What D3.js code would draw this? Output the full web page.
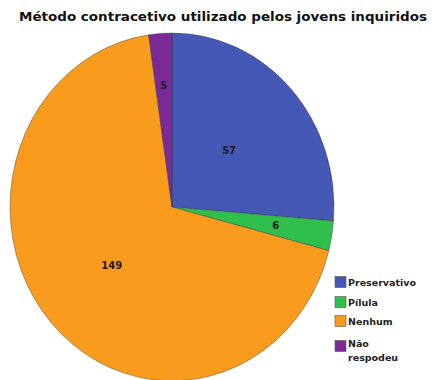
<!DOCTYPE html>
<html>
<head>
<meta charset="utf-8">
<script src="https://cdn.jsdelivr.net/npm/d3@7"></script>
<style>
  html, body { margin: 0; padding: 0; background: #fff; }
  svg { display: block; font-family: "DejaVu Sans", Verdana, sans-serif; }
</style>
</head>
<body>
<svg id="chart" width="435" height="380"></svg>
<script>
// Contraceptive method used by the surveyed young people
const categories = ["Preservativo", "Pílula", "Nenhum", "Não respodeu"];
const counts = [57, 6, 149, 5];
const legendLabels = [["Preservativo"], ["Pílula"], ["Nenhum"], ["Não", "respodeu"]];
const title = "Método contracetivo utilizado pelos jovens inquiridos";

const colors = ["#4558b6", "#2fbf4c", "#f99b1d", "#7a2b98"];
const labelRadius = [0.48, 0.65, 0.5, 0.7]; // fraction of radius for value labels

const svg = d3.select("#chart");

const titleText = svg.append("text")
  .attr("x", 223).attr("y", 21)
  .attr("text-anchor", "middle")
  .attr("font-size", 12)
  .attr("font-weight", "bold")
  .attr("fill", "#111")
  .text(title);
// keep the title at its set width
titleText.attr("textLength", 408).attr("lengthAdjust", "spacingAndGlyphs");

const cx = 172, cy = 207, rx = 162, ry = 174;
const data = categories.map((c, i) => ({ name: c, value: counts[i], i }));

const pie = d3.pie().sort(null).value(d => d.value);
const arcs = pie(data);
const arc = d3.arc().innerRadius(0).outerRadius(1);

// unit pie, stretched into an ellipse
const g = svg.append("g")
  .attr("transform", `translate(${cx},${cy}) scale(${rx},${ry})`);

g.selectAll("path")
  .data(arcs)
  .join("path")
  .attr("d", arc)
  .attr("fill", d => colors[d.data.i])
  .attr("stroke", "#333")
  .attr("stroke-opacity", 0.5)
  .attr("stroke-width", 0.8)
  .attr("vector-effect", "non-scaling-stroke");

// value labels
svg.append("g").selectAll("text")
  .data(arcs)
  .join("text")
  .attr("x", d => {
    const a = (d.startAngle + d.endAngle) / 2;
    return cx + Math.sin(a) * rx * labelRadius[d.data.i];
  })
  .attr("y", d => {
    const a = (d.startAngle + d.endAngle) / 2;
    return cy - Math.cos(a) * ry * labelRadius[d.data.i];
  })
  .attr("dy", "0.35em")
  .attr("text-anchor", "middle")
  .attr("font-size", 10)
  .attr("font-weight", "bold")
  .attr("fill", "#1a1a1a")
  .text(d => d.data.value);

// legend
const legendY = [282, 302, 321, 346];
const lg = svg.append("g");
categories.forEach((c, i) => {
  lg.append("rect")
    .attr("x", 335).attr("y", legendY[i] - 5.5)
    .attr("width", 11).attr("height", 11)
    .attr("fill", colors[i])
    .attr("stroke", "#555").attr("stroke-width", 0.6);
  const lines = legendLabels[i];
  const t = lg.append("text")
    .attr("x", 348)
    .attr("font-size", 9.5)
    .attr("font-weight", "bold")
    .attr("fill", "#222");
  lines.forEach((ln, k) => {
    const y = lines.length > 1 ? legendY[i] + 1 + k * 14 : legendY[i] + 3.5;
    t.append("tspan")
      .attr("x", 348)
      .attr("y", y)
      .text(ln);
  });
});
</script>
</body>
</html>
